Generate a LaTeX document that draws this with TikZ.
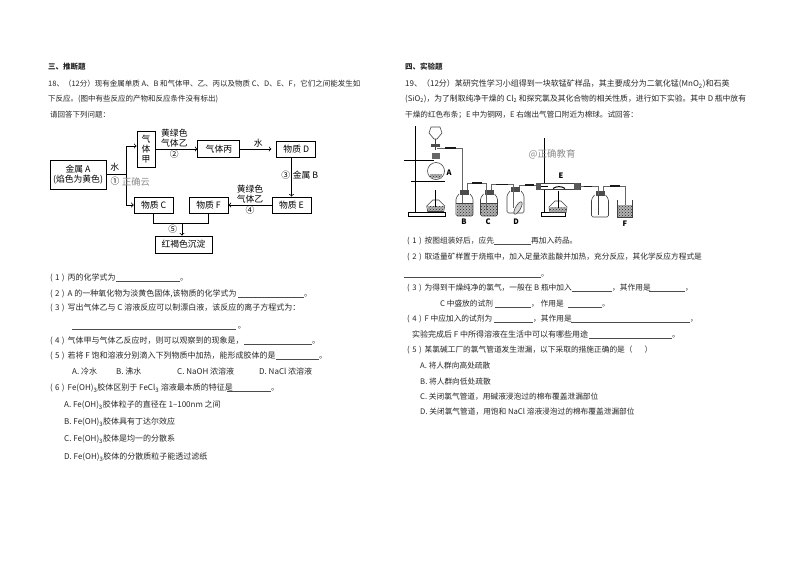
\documentclass[tikz,border=0pt]{standalone}
\usepackage{fontspec}
\setmainfont{Noto Sans CJK SC}
\usetikzlibrary{positioning, arrows, patterns, calc}
\newcommand{\seg}[2]{\makebox[#1pt][l]{#2}}
\newcommand{\blank}[1]{{\color{black!70}\rule[-1.2pt]{#1pt}{0.5pt}}}
\newcommand{\qn}[1]{\makebox[17.5pt][s]{(\hfil#1\hfil)\hspace{3pt}}}
\newcommand{\FeOH}{Fe(OH)\textsubscript{3}}
\tikzset{
    textline/.style={anchor=west, inner sep=0pt, text height=6.5pt, text depth=1.2pt, font=\fontsize{7.7}{9}\selectfont, text=black!85},
    sized/.style={font=\fontsize{#1}{9}\selectfont},
    headline/.style={textline, font=\fontsize{7.5}{9}\selectfont\bfseries},
    flowtext/.style={inner sep=1pt, align=center, font=\fontsize{8.8}{10}\selectfont},
    flowbox/.style={draw, line width=0.9pt, inner sep=0pt, align=center, font=\fontsize{8.8}{10}\selectfont},
    flowline/.style={draw, line width=0.8pt},
    marktext/.style={inner sep=0pt, text=black!45, font=\fontsize{#1}{12}\selectfont},
    partlabel/.style={inner sep=0pt, font=\fontsize{7.5}{9}\selectfont\bfseries},
    glass/.style={draw, line width=0.6pt, draw=black!75},
    tube/.style={draw, line width=1pt, draw=black!60},
    rubber/.style={draw, line width=1.7pt, draw=black!90},
    stand/.style={draw, line width=1pt},
    liquid/.style={preaction={fill=black!30}, pattern=crosshatch dots, pattern color=black!85},
    emptybottle/.pic = {
    \draw[glass, rounded corners=1.5pt] (-5.5,4) -- (-8.5,8) -- (-8.5,26) -- (8.5,26) -- (8.5,8) -- (5.5,4);
    \fill[black!70] (-4.5,0) rectangle (4.5,4.5);
    },
    liquidbottle/.pic = {
    \fill[liquid] (-8,13) rectangle (8,25.5);
    \draw[glass] (-8.5,13) -- (8.5,13);
    \pic at (0,0) {emptybottle};
    },
    burner/.pic = {
    \draw[glass, fill=white] (-3,0) -- (-9,6) -- (-8,11.5) -- (8,11.5) -- (9,6) -- (3,0) -- cycle;
    \fill[liquid] (-8,6) rectangle (8,11);
    \draw[line width=1pt] (0,-10) -- (0,7);
    },
}
\begin{document}
\begin{tikzpicture}[x=1pt, y=-1pt]
    \useasboundingbox (0,0) rectangle (794,562);

    \node[headline] (headLeft) at (48,67) {三、推断题};
    \node[textline, sized=7.5] (introA) at (48,84) {18、（12分）现有金属单质 A、B 和气体甲、乙、丙以及物质 C、D、E、F，它们之间能发生如};
    \node[textline, sized=7.5] (introB) at (48,99) {下反应。(图中有些反应的产物和反应条件没有标出)};
    \node[textline, sized=7.5] (introC) at (50,115) {请回答下列问题：};

    \node[flowbox, minimum width=56pt, minimum height=29pt] (metalA) at (78,174.5) {金属 A\\(焰色为黄色)};
    \node[flowbox, minimum width=18pt, minimum height=36pt] (gasJia) at (146,149) {气\\体\\甲};
    \node[flowbox, minimum width=42pt, minimum height=17pt, right=42pt of gasJia] (gasBing) {气体丙};
    \node[flowbox, minimum width=39pt, minimum height=16pt, right=36pt of gasBing] (matD) {物质 D};
    \node[flowbox, minimum width=39pt, minimum height=16pt] (matE) at (291.5,205) {物质 E};
    \node[flowbox, minimum width=39pt, minimum height=16pt, left=43pt of matE] (matF) {物质 F};
    \node[flowbox, minimum width=39pt, minimum height=16pt, left=15pt of matF] (matC) {物质 C};
    \node[flowbox, minimum width=57pt, minimum height=17pt] (redPpt) at (183.5,244.5) {红褐色沉淀};
    \coordinate (forkA) at (126,174.5);
    \coordinate (joinCF) at (182,223);

    \draw[flowline] (metalA.east) -- (forkA);
    \draw[flowline, ->] (forkA) |- ([yshift=3pt]gasJia.west);
    \draw[flowline, ->] (forkA) |- (matC.west);
    \draw (gasJia) edge[flowline, ->] node[flowtext, above, pos=.45] (labelYi) {黄绿色\\气体乙} node[flowtext, below, pos=.45] (labelTwo) {②} (gasBing);
    \draw (gasBing) edge[flowline, ->, shorten >=5pt] node[flowtext, above] (labelWaterB) {水} (matD);
    \draw[flowline, ->] (matE |- matD.south) -- node[flowtext, left, pos=.45] (labelThree) {③} node[flowtext, right, pos=.45] (labelMetalB) {金属 B} (matE.north);
    \draw (matE) edge[flowline, ->] node[flowtext, above] (labelYiB) {黄绿色\\气体乙} node[flowtext, below] (labelFour) {④} (matF);
    \draw[flowline] (matC.south) |- (joinCF);
    \draw[flowline] (matF.south) |- (joinCF);
    \draw[flowline, ->] (joinCF) -- (joinCF |- redPpt.north);
    \node[flowtext] (labelWaterA) at (114.7,166.7) {水};
    \node[flowtext] (labelOne) at (115,181) {①};
    \node[flowtext] (labelFive) at (172.7,229) {⑤};
    \node[marktext=9.3] (markLeft) at (136,182) {正确云};

    \node[textline, sized=8] (qA1) at (50,278) {\seg{66}{\qn{1}丙的化学式为}\blank{64}。};
    \node[textline, sized=8] (qA2) at (50,294) {\seg{188}{\qn{2}A 的一种氧化物为淡黄色固体,该物质的化学式为}\blank{66}。};
    \node[textline, sized=8] (qA3) at (50,308) {\qn{3}写出气体乙与 C 溶液反应可以制漂白液，该反应的离子方程式为：};
    \node[textline, sized=8] (qA3b) at (72,326) {\blank{164} 。};
    \node[textline, sized=8] (qA4) at (50,341) {\seg{194}{\qn{4}气体甲与气体乙反应时，则可以观察到的现象是，}\blank{68}。};
    \node[textline, sized=8] (qA5) at (50,356) {\seg{226}{\qn{5}若将 F 饱和溶液分别滴入下列物质中加热，能形成胶体的是}\blank{43}。};
    \node[textline, sized=8] (optA) at (72,372) {A. 冷水};
    \node[textline, sized=8] (optB) at (116,372) {B. 沸水};
    \node[textline, sized=8] (optC) at (177,372) {C. NaOH 浓溶液};
    \node[textline, sized=8] (optD) at (259,372) {D. NaCl 浓溶液};
    \node[textline, sized=8] (qA6) at (50,388) {\seg{177}{\qn{6}\FeOH{}胶体区别于 FeCl\textsubscript{3} 溶液最本质的特征是}\blank{44}。};
    \node[textline, sized=8] (ansA) at (64,405) {A. \FeOH{}胶体粒子的直径在 1--100nm 之间};
    \node[textline, sized=8] (ansB) at (64,422) {B. \FeOH{}胶体具有丁达尔效应};
    \node[textline, sized=8] (ansC) at (64,439) {C. \FeOH{}胶体是均一的分散系};
    \node[textline, sized=8] (ansD) at (64,457) {D. \FeOH{}胶体的分散质粒子能透过滤纸};

    \node[headline] (headRight) at (405,67) {四、实验题};
    \node[textline, sized=8] (expA) at (405,84) {19、（12分）某研究性学习小组得到一块软锰矿样品，其主要成分为二氧化锰(MnO\textsubscript{2})和石英};
    \node[textline, sized=7.8] (expB) at (405,99) {(SiO\textsubscript{2})，为了制取纯净干燥的 Cl\textsubscript{2} 和探究氯及其化合物的相关性质，进行如下实验。其中 D 瓶中放有};
    \node[textline, sized=7.6] (expC) at (405,115) {干燥的红色布条；E 中为铜网，E 右端出气管口附近为棉球。试回答：};

    \draw[stand] (415,126) -- (415,212);
    \draw[stand] (408,212.5) rectangle (445,216.5);
    \draw[stand] (404,160) -- (434,160);
    \draw[stand] (411,181) -- (445,181);
    \draw[glass] (431,127) -- (440,127) -- (442,133) -- (437,139) -- (434,139) -- (429,133) -- cycle;
    \draw[glass] (435.7,139) -- (435.7,150);
    \fill[black!70] (431,144) rectangle (440,147);
    \fill[black!60] (432,153) rectangle (439.5,159);
    \draw[glass] (436,171) circle[radius=8.5pt];
    \fill[liquid] (430,174) rectangle (442,178);
    \pic at (435.7,200) {burner};
    \draw[tube] (437,148) -- (462,148) -- (462,212);
    \draw[rubber] (445,148) -- (456,148);
    \node[partlabel] (labelA) at (449,172.7) {A};

    \pic at (464.5,190) {liquidbottle};
    \pic at (489,190) {liquidbottle};
    \pic at (515.5,187) {emptybottle};
    \draw[glass, fill=black!15, rotate around={60:(518,208)}] (518,208) ellipse[x radius=7pt, y radius=2.5pt];
    \draw[tube] (467,190) -- (467,183) -- (486,183) -- (486,210);
    \draw[tube] (491,190) -- (491,184.5) -- (513,184.5) -- (513,208);
    \draw[tube] (519,187) -- (519,185) -- (536,185);
    \draw[rubber] (472,183) -- (482,183);
    \draw[rubber] (496,184.5) -- (508,184.5);
    \draw[rubber] (525,185) -- (534,185);
    \node[partlabel] (labelB) at (464,222) {B};
    \node[partlabel] (labelC) at (488,222) {C};
    \node[partlabel] (labelD) at (516,222) {D};

    \draw[stand] (544,138) -- (544,212);
    \draw[stand] (541,212.5) rectangle (565,216.5);
    \draw[glass, fill=white] (536,183.5) rectangle (580,189.5);
    \fill[black!65] (536,183) rectangle (541,190);
    \fill[black!65] (574,183) rectangle (580,190);
    \draw[stand] (541,186.5) -- (548,186.5);
    \draw[line width=1pt] (553,188.5) .. controls (556,186) and (562,186) .. (565,188.5);
    \pic at (558,201) {burner};
    \node[partlabel] (labelE) at (561,175.7) {E};
    \node[marktext=9.5] (markRight) at (552,154) {@正确教育};

    \pic at (600,191) {emptybottle};
    \draw[glass] (598,195) -- (598,215);
    \draw[tube] (580,186.5) -- (598,186.5) -- (598,195);
    \draw[tube] (603,191) -- (603,186) -- (625,186) -- (625,206);
    \draw[rubber] (584,186.5) -- (592,186.5);
    \draw[rubber] (610,186) -- (620,186);
    \fill[liquid] (617.5,205) rectangle (632,216.5);
    \draw[glass] (617,200) -- (617,217) -- (632.5,217) -- (632.5,200);
    \node[partlabel] (labelF) at (625,224) {F};

    \node[textline] (qB1) at (407,241) {\seg{87}{\qn{1}按图组装好后，应先}\blank{37}再加入药品。};
    \node[textline] (qB2) at (407,257) {\qn{2}取适量矿样置于烧瓶中，加入足量浓盐酸并加热，充分反应，其化学反应方程式是};
    \node[textline] (qB2b) at (404,274) {\blank{137}。};
    \node[textline] (qB3) at (407,288) {\seg{165}{\qn{3}为得到干燥纯净的氯气，一般在 B 瓶中加入}\blank{40}\seg{37}{，其作用是}\blank{36}，};
    \node[textline] (qB3b) at (440,304) {\seg{55}{C 中盛放的试剂}\blank{36}\seg{37}{， 作用是}\blank{34}。};
    \node[textline] (qB4) at (407,319) {\seg{87}{\qn{4}F 中应加入的试剂为}\blank{39}\seg{38}{，其作用是}\blank{119}，};
    \node[textline, sized=8] (qB4b) at (412,335) {\seg{177}{实验完成后 F 中所得溶液在生活中可以有哪些用途}\blank{83}。};
    \node[textline] (qB5) at (407,350) {\qn{5}某氯碱工厂的氯气管道发生泄漏，以下采取的措施正确的是（\hspace{12pt}）};
    \node[textline] (resA) at (420,366) {A. 将人群向高处疏散};
    \node[textline] (resB) at (420,382) {B. 将人群向低处疏散};
    \node[textline] (resC) at (420,397) {C. 关闭氯气管道，用碱液浸泡过的棉布覆盖泄漏部位};
    \node[textline] (resD) at (420,412) {D. 关闭氯气管道，用饱和 NaCl 溶液浸泡过的棉布覆盖泄漏部位};
\end{tikzpicture}
\end{document}
